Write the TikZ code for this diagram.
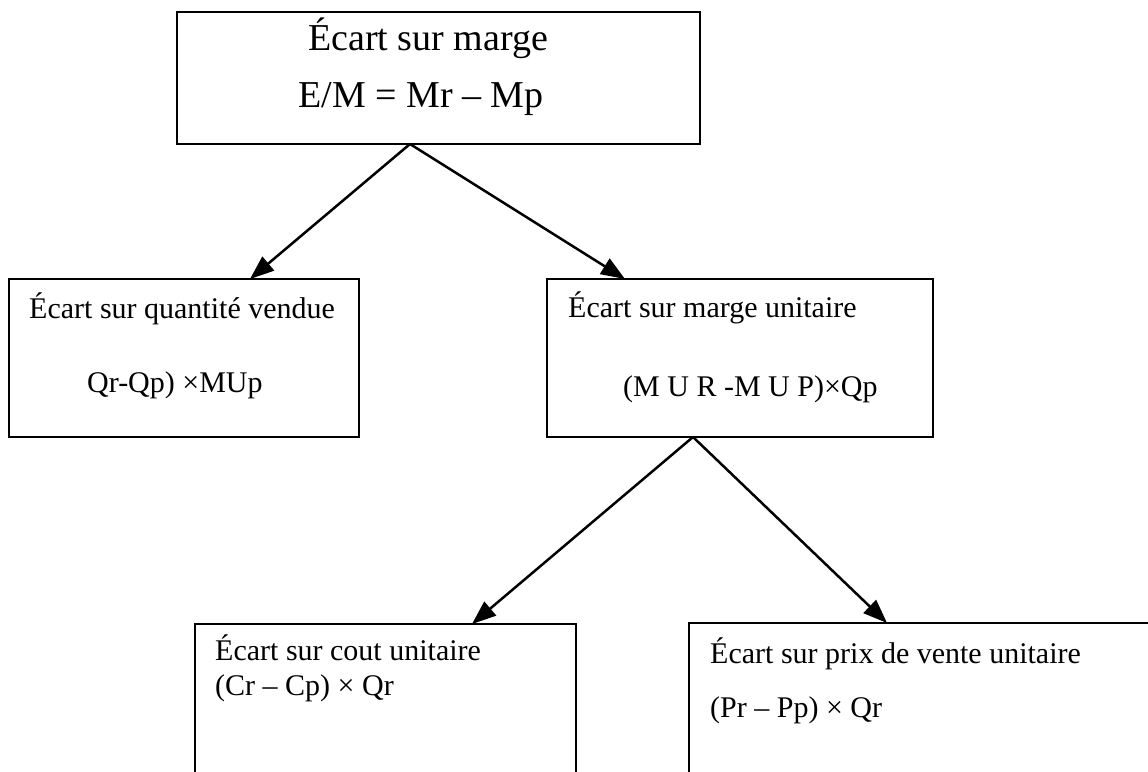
\documentclass[tikz,border=0pt]{standalone}
\usepackage{fontspec}
\setmainfont{Liberation Serif}
\usetikzlibrary{arrows.meta}
\begin{document}
\begin{tikzpicture}[x=1pt,y=-1pt,
  box/.style={draw,line width=2pt,inner sep=0pt,outer sep=0pt,anchor=north west},
  lbl/.style={inner sep=0pt,anchor=base west,font=\fontsize{30}{36}\selectfont},
  toplbl/.style={inner sep=0pt,anchor=base,font=\fontsize{38}{44}\selectfont},
  arr/.style={line width=2.5pt,-{Triangle[length=24pt,width=18pt]}}]
\useasboundingbox (0,0) rectangle (1148,771);
\clip (0,0) rectangle (1148,771);

% boxes
\node[box,minimum width=523pt,minimum height=132pt] (top) at (177,12) {};
\node[box,minimum width=350pt,minimum height=158pt] (left) at (9,279) {};
\node[box,minimum width=386pt,minimum height=158pt] (mid) at (547,279) {};
\node[box,minimum width=381pt,minimum height=200pt] (bl) at (195,624) {};
\node[box,minimum width=480pt,minimum height=200pt] (br) at (689,623) {};

% texts
\node[toplbl] (t1) at (428,50) {Écart sur marge};
\node[toplbl] (t2) at (421,107) {E/M = Mr – Mp};
\node[lbl] (l1) at (29,318) {Écart sur quantité vendue};
\node[lbl] (l2) at (87,392) {Qr-Qp) ×MUp};
\node[lbl] (m1) at (568,317) {Écart sur marge unitaire};
\node[lbl] (m2) at (623,396) {(M U R -M U P)×Qp};
\node[lbl] (bl1) at (215,660) {Écart sur cout unitaire};
\node[lbl] (bl2) at (215,695) {(Cr – Cp) × Qr};
\node[lbl] (br1) at (710,663) {Écart sur prix de vente unitaire};
\node[lbl] (br2) at (710,717) {(Pr – Pp) × Qr};

% connector points
\coordinate (s1) at (410,144);
\coordinate (e1) at (250,279);
\coordinate (e2) at (625,279);
\coordinate (s2) at (693,437);
\coordinate (e3) at (472,624);
\coordinate (e4) at (887,623);

\draw[arr] (top.south -| s1) -- (left.north -| e1);
\draw[arr] (top.south -| s1) -- (mid.north -| e2);
\draw[arr] (mid.south -| s2) -- (bl.north -| e3);
\draw[arr] (mid.south -| s2) -- (br.north -| e4);
\end{tikzpicture}
\end{document}
